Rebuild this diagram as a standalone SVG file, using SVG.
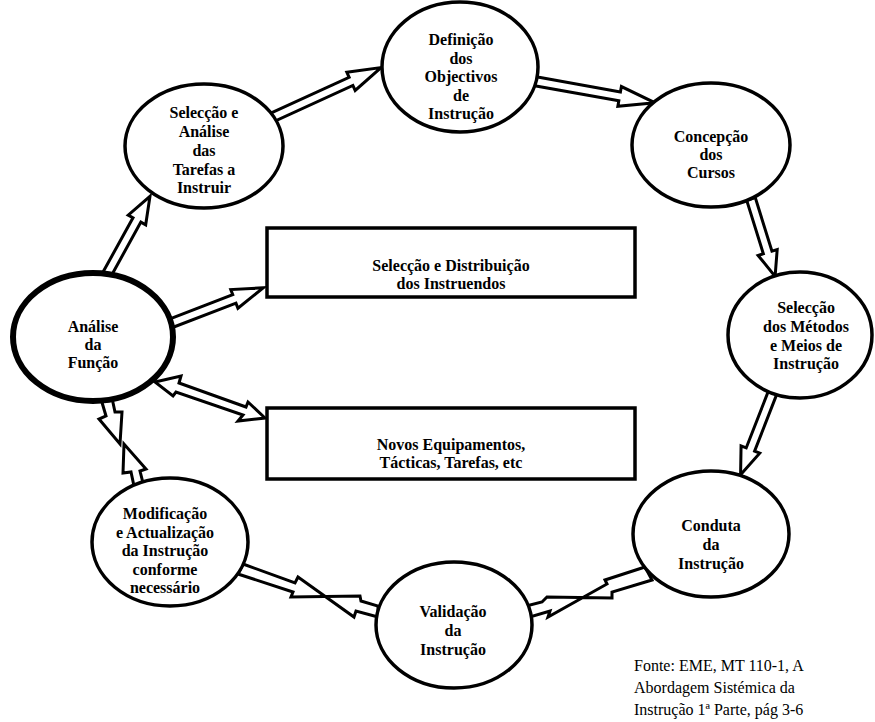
<svg xmlns="http://www.w3.org/2000/svg" width="875" height="722" viewBox="0 0 875 722">
<style>
.n{fill:#fff;stroke:#000;stroke-width:3.5}
.thick{stroke-width:6}
.r{fill:#fff;stroke:#000;stroke-width:3.5}
.t{font-family:"Liberation Serif","Times New Roman",serif;font-weight:bold;font-size:16px;text-anchor:middle;fill:#000}
.a{fill:#fff;stroke:#000;stroke-width:3;stroke-linejoin:miter}
.f{font-family:"Liberation Serif","Times New Roman",serif;font-size:16px;fill:#000}
</style>
<rect width="875" height="722" fill="#fff"/>
<g id="connectors">
<polygon class="a" transform="translate(106,276) rotate(-61.1)" points="0,-4.5 64,-4.5 64,-10 91,0 64,10 64,4.5 0,4.5"/>
<polygon class="a" transform="translate(271,118) rotate(-24.6)" points="0,-4.5 88,-4.5 88,-10 121,0 88,10 88,4.5 0,4.5"/>
<polygon class="a" transform="translate(534,81) rotate(10.2)" points="0,-4.5 87,-4.5 87,-10 123,0 87,10 87,4.5 0,4.5"/>
<polygon class="a" transform="translate(751,199) rotate(72.7)" points="0,-4.5 56,-4.5 56,-10 81,0 56,10 56,4.5 0,4.5"/>
<polygon class="a" transform="translate(774,389) rotate(111.3)" points="0,-4.5 65,-4.5 65,-10 92,0 65,10 65,4.5 0,4.5"/>
<polygon class="a" transform="translate(169,324) rotate(-21)" points="0,-4.5 70,-4.5 70,-10 101,0 70,10 70,4.5 0,4.5"/>
<polygon class="a" points="155,382 181,376 179,383 246,407 248,402 265,418 238,421 243,415 176,392 173,396"/>
<polygon class="a" points="101,399 106,416 99,419 120,444 122,412 115,412 112,398"/>
<polygon class="a" points="124,444 123,473 131,472 134,486 143,483 140,471 146,469"/>
<polygon class="a" points="243,564 295,583 298,577 354,617 356,611 378,617 378,606 361,601 360,596 291,597 293,592 238,574"/>
<polygon class="a" points="645,567 605,580 607,584 548,617 550,611 530,617 526,606 542,602 547,597 612,598 612,592 652,580"/>
</g>
<g id="n-analise-funcao"><ellipse class="n thick" cx="93" cy="337" rx="80" ry="64"/>
<text class="t" x="93" y="332">Análise</text><text class="t" x="93" y="350">da</text><text class="t" x="93" y="368">Função</text></g>
<g id="n-seleccao-tarefas"><ellipse class="n" cx="204" cy="146" rx="79" ry="62"/>
<text class="t" x="204" y="118">Selecção e</text><text class="t" x="204" y="137">Análise</text><text class="t" x="204" y="156">das</text><text class="t" x="204" y="175">Tarefas a</text><text class="t" x="204" y="193">Instruir</text></g>
<g id="n-definicao"><ellipse class="n" cx="460" cy="67" rx="78" ry="65"/>
<text class="t" x="461" y="45">Definição</text><text class="t" x="461" y="64">dos</text><text class="t" x="461" y="82">Objectivos</text><text class="t" x="461" y="101">de</text><text class="t" x="461" y="119">Instrução</text></g>
<g id="n-concepcao"><ellipse class="n" cx="711" cy="145" rx="79" ry="62"/>
<text class="t" x="711" y="142">Concepção</text><text class="t" x="711" y="160">dos</text><text class="t" x="711" y="178">Cursos</text></g>
<g id="n-metodos"><ellipse class="n" cx="800" cy="335" rx="72" ry="63"/>
<text class="t" x="806" y="313">Selecção</text><text class="t" x="806" y="332">dos Métodos</text><text class="t" x="806" y="351">e Meios de</text><text class="t" x="806" y="369">Instrução</text></g>
<g id="n-conduta"><ellipse class="n" cx="711" cy="534" rx="78" ry="63"/>
<text class="t" x="711" y="531">Conduta</text><text class="t" x="711" y="550">da</text><text class="t" x="711" y="569">Instrução</text></g>
<g id="n-validacao"><ellipse class="n" cx="454" cy="625" rx="78" ry="63"/>
<text class="t" x="453" y="617">Validação</text><text class="t" x="453" y="636">da</text><text class="t" x="453" y="655">Instrução</text></g>
<g id="n-modificacao"><ellipse class="n" cx="170" cy="542" rx="78" ry="64"/>
<text class="t" x="165" y="519">Modificação</text><text class="t" x="165" y="538">e Actualização</text><text class="t" x="165" y="556">da Instrução</text><text class="t" x="165" y="575">conforme</text><text class="t" x="165" y="593">necessário</text></g>
<g id="n-distribuicao"><rect class="r" x="267" y="228" width="368" height="69"/>
<text class="t" x="451" y="271">Selecção e Distribuição</text><text class="t" x="451" y="289">dos Instruendos</text></g>
<g id="n-novos"><rect class="r" x="267" y="408" width="368" height="71"/>
<text class="t" x="451" y="450">Novos Equipamentos,</text><text class="t" x="451" y="468">Tácticas, Tarefas, etc</text></g>
<g id="fonte">
<text class="f" x="634" y="671">Fonte: EME, MT 110-1, A</text>
<text class="f" x="634" y="693">Abordagem Sistémica da</text>
<text class="f" x="634" y="715">Instrução 1ª Parte, pág 3-6</text>
</g>
</svg>
